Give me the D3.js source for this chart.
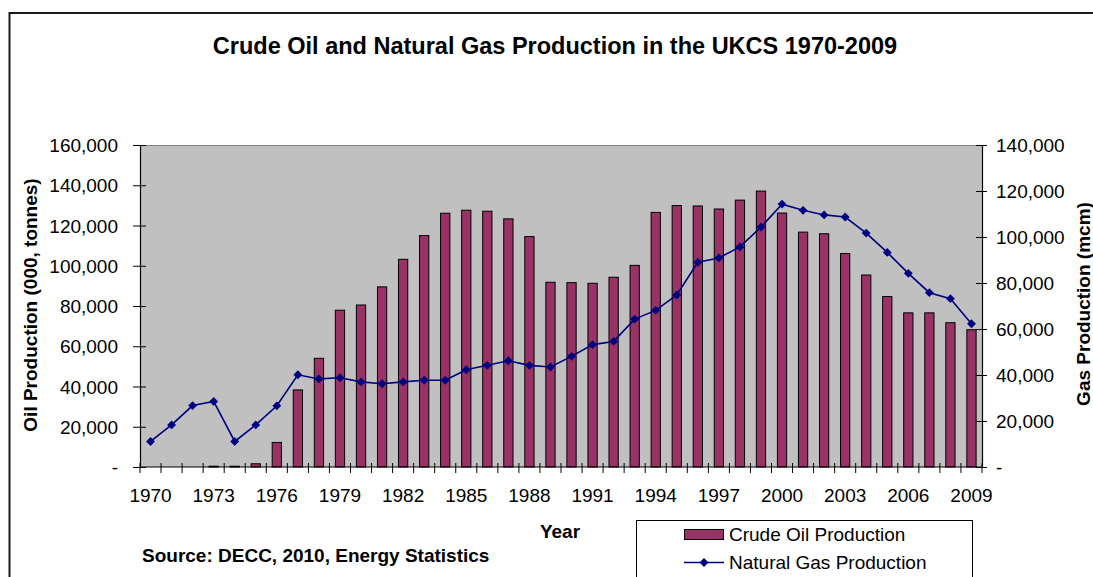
<!DOCTYPE html>
<html>
<head>
<meta charset="utf-8">
<script src="https://cdn.jsdelivr.net/npm/d3@7"></script>
<style>
  html, body { margin: 0; padding: 0; background: #fff; }
  svg { display: block; font-family: "Liberation Sans", Arial, sans-serif; }
</style>
</head>
<body>
<svg id="chart" width="1093" height="577"></svg>
<script>
// ---- Data ----
const years = [1970,1971,1972,1973,1974,1975,1976,1977,1978,1979,
               1980,1981,1982,1983,1984,1985,1986,1987,1988,1989,
               1990,1991,1992,1993,1994,1995,1996,1997,1998,1999,
               2000,2001,2002,2003,2004,2005,2006,2007,2008,2009];
const oilProduction = [0,0,0,400,400,1600,12200,38300,54000,77900,
                       80500,89500,103200,115000,126100,127600,127100,123300,114500,91800,
                       91600,91300,94300,100200,126500,129900,129700,128200,132600,137100,
                       126200,116700,115900,106100,95400,84700,76600,76600,71700,68200];
const gasProduction = [11100,18300,26700,28500,11100,18300,26600,40100,38300,38800,
                       37000,36200,37000,37700,37700,42300,44200,46200,44200,43500,
                       48100,53200,54600,64300,68100,74800,89000,90900,95700,104300,
                       114300,111600,109600,108700,101700,93300,84200,75800,73200,62300];
const oilTicks = [0,20000,40000,60000,80000,100000,120000,140000,160000];
const gasTicks = [0,20000,40000,60000,80000,100000,120000,140000];
const yearLabels = [1970,1973,1976,1979,1982,1985,1988,1991,1994,1997,2000,2003,2006,2009];
const titleText = "Crude Oil and Natural Gas Production in the UKCS 1970-2009";
const oilAxisTitle = "Oil Production (000, tonnes)";
const gasAxisTitle = "Gas Production (mcm)";
const xAxisTitle = "Year";
const sourceText = "Source: DECC, 2010, Energy Statistics";
const seriesNames = ["Crude Oil Production", "Natural Gas Production"];

// ---- Layout ----
const svg = d3.select("#chart");
const plot = {left: 140, right: 982, top: 145, bottom: 467};
const barColor = "#993366";
const lineColor = "#000080";
const fontSize = 19;

// chart border
svg.append("rect").attr("x", 9.5).attr("y", 13).attr("width", 1110).attr("height", 620)
  .attr("fill", "#fff").attr("stroke", "#1a1a1a").attr("stroke-width", 2);

// title
svg.append("text").attr("x", 555).attr("y", 54).attr("text-anchor", "middle")
  .attr("font-size", 23.5).attr("font-weight", "bold").attr("fill", "#000").text(titleText);

// scales
const x = d3.scaleBand().domain(years).range([plot.left, plot.right]).padding(0);
const yOil = d3.scaleLinear().domain([0, 160000]).range([plot.bottom, plot.top]);
const yGas = d3.scaleLinear().domain([0, 140000]).range([plot.bottom, plot.top]);

// plot background
svg.append("rect").attr("x", plot.left).attr("y", plot.top)
  .attr("width", plot.right - plot.left).attr("height", plot.bottom - plot.top)
  .attr("fill", "#c0c0c0");
svg.append("line").attr("x1", plot.left).attr("x2", plot.right)
  .attr("y1", plot.top + 0.5).attr("y2", plot.top + 0.5)
  .attr("stroke", "#808080").attr("stroke-width", 1);

// bars
const bw = x.bandwidth() * 0.44;
svg.append("g").selectAll("rect").data(years.filter((d, i) => oilProduction[i] > 0)).join("rect")
  .attr("x", (d) => x(d) + (x.bandwidth() - bw) / 2)
  .attr("y", (d) => yOil(oilProduction[years.indexOf(d)]))
  .attr("width", bw)
  .attr("height", (d) => plot.bottom - yOil(oilProduction[years.indexOf(d)]))
  .attr("fill", barColor).attr("stroke", "#000").attr("stroke-width", 1);

// left axis
const leftAxis = d3.axisLeft(yOil).tickValues(oilTicks)
  .tickFormat((d) => d === 0 ? "-" : d3.format(",")(d)).tickSizeInner(6).tickSizeOuter(0).tickPadding(15);
const gL = svg.append("g").attr("transform", `translate(${plot.left},0)`).call(leftAxis);
gL.selectAll(".tick line").attr("x2", -7).attr("x1", 6).attr("stroke", "#000");
gL.select(".domain").attr("stroke", "#000").attr("stroke-width", 1.2);
gL.selectAll(".tick text").attr("font-size", fontSize).attr("font-family", "Liberation Sans, Arial, sans-serif")
  .attr("fill", "#000").attr("x", -22).attr("dy", "0.35em");

// right axis
const rightAxis = d3.axisRight(yGas).tickValues(gasTicks)
  .tickFormat((d) => d === 0 ? "-" : d3.format(",")(d)).tickSizeInner(6).tickSizeOuter(0);
const gR = svg.append("g").attr("transform", `translate(${plot.right},0)`).call(rightAxis);
gR.selectAll(".tick line").attr("x1", -6).attr("x2", 5).attr("stroke", "#000");
gR.select(".domain").attr("stroke", "#000").attr("stroke-width", 1.2);
gR.selectAll(".tick text").attr("font-size", fontSize).attr("font-family", "Liberation Sans, Arial, sans-serif")
  .attr("fill", "#000").attr("x", 14).attr("dy", "0.35em");

// bottom axis: tick marks at band boundaries, labels every 3 years
const gB = svg.append("g");
gB.append("line").attr("x1", plot.left).attr("x2", plot.right)
  .attr("y1", plot.bottom).attr("y2", plot.bottom).attr("stroke", "#000").attr("stroke-width", 1.2);
const boundaries = years.map((d) => x(d)).concat([x(years[years.length - 1]) + x.bandwidth()]);
gB.selectAll("line.tk").data(boundaries).join("line").attr("class", "tk")
  .attr("x1", (d) => d).attr("x2", (d) => d)
  .attr("y1", plot.bottom - 4).attr("y2", plot.bottom + 6)
  .attr("stroke", "#000").attr("stroke-width", 1);
gB.selectAll("text").data(yearLabels).join("text")
  .attr("x", (d) => x(d) + x.bandwidth() / 2).attr("y", 502)
  .attr("text-anchor", "middle").attr("font-size", fontSize).attr("fill", "#000")
  .text((d) => d);

// gas line
const line = d3.line().x((d, i) => x(years[i]) + x.bandwidth() / 2).y((d) => yGas(d));
svg.append("path").datum(gasProduction).attr("d", line)
  .attr("fill", "none").attr("stroke", lineColor).attr("stroke-width", 1.6);
const diamond = d3.symbol().type(d3.symbolDiamond2).size(50);
svg.append("g").selectAll("path").data(gasProduction).join("path")
  .attr("d", diamond)
  .attr("transform", (d, i) => `translate(${x(years[i]) + x.bandwidth() / 2},${yGas(d)})`)
  .attr("fill", lineColor);

// axis titles
svg.append("text").attr("transform", "translate(37,305) rotate(-90)")
  .attr("text-anchor", "middle").attr("font-size", fontSize).attr("font-weight", "bold").text(oilAxisTitle);
svg.append("text").attr("transform", "translate(1089.5,304) rotate(-90)")
  .attr("text-anchor", "middle").attr("font-size", fontSize).attr("font-weight", "bold").text(gasAxisTitle);
svg.append("text").attr("x", 560).attr("y", 538).attr("text-anchor", "middle")
  .attr("font-size", fontSize).attr("font-weight", "bold").text(xAxisTitle);
svg.append("text").attr("x", 142).attr("y", 562)
  .attr("font-size", fontSize).attr("font-weight", "bold").text(sourceText);

// legend
const lg = svg.append("g");
lg.append("rect").attr("x", 636.5).attr("y", 520.5).attr("width", 336).attr("height", 80)
  .attr("fill", "#fff").attr("stroke", "#000").attr("stroke-width", 1);
lg.append("rect").attr("x", 684.5).attr("y", 529.5).attr("width", 39).attr("height", 10)
  .attr("fill", barColor).attr("stroke", "#000").attr("stroke-width", 1);
lg.append("text").attr("x", 729).attr("y", 541).attr("font-size", fontSize).text(seriesNames[0]);
lg.append("line").attr("x1", 684).attr("x2", 724).attr("y1", 562.5).attr("y2", 562.5)
  .attr("stroke", lineColor).attr("stroke-width", 1.6);
lg.append("path").attr("d", diamond).attr("transform", "translate(704,562.5)").attr("fill", lineColor);
lg.append("text").attr("x", 729).attr("y", 569).attr("font-size", fontSize).text(seriesNames[1]);
</script>
</body>
</html>
